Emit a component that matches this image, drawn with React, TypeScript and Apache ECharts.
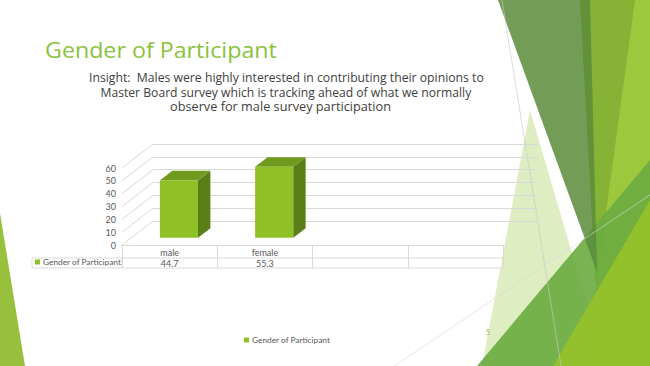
import React, { useEffect, useRef } from "react";
import * as echarts from "echarts";

// ---- data ----
const categories = ["male", "female", "", ""];
const seriesName = "Gender of Participant";
const values = [44.7, 55.3];
const yTicks = [0, 10, 20, 30, 40, 50, 60];
const titleText = "Gender of Participant";
const insightLines = [
  "Insight:  Males were highly interested in contributing their opinions to",
  "Master Board survey which is tracking ahead of what we normally",
  "observe for male survey participation",
];
const pageNumber = "5";

// ---- styles / layout ----
const W = 650;
const H = 366;
const FRONT_FILL = "#8fc026";
const SIDE_FILL = "#5a7f17";
const TOP_FILL = "#6f9a1e";
const GRID_COLOR = "#d9d9d9";
const SMALL_TEXT = "#595959";
const TITLE_COLOR = "#8bc23c";
const DEPTH: [number, number] = [31, -24];
const FRONT = { left: 122, right: 503, top: 168, bottom: 245 };
const SMALL_FONT = "Lato";
const BIG_FONT = "Open Sans";

function fitScale(text: string, font: string, target: number) {
  try {
    const c = document.createElement("canvas").getContext("2d");
    if (!c) return 1;
    c.font = font;
    const w = c.measureText(text).width;
    return w > 0 ? target / w : 1;
  } catch (e) {
    return 1;
  }
}

export default function App() {
  const ref = useRef<HTMLDivElement>(null);

  useEffect(() => {
    if (!ref.current) return;
    const chart = echarts.init(ref.current, null, { renderer: "svg" });

    const titleScale = fitScale(titleText, `22px "${BIG_FONT}"`, 232);
    const lineLefts = [89, 100.5, 170];
    const lineWidths = [395, 371, 221];
    const lineY = [77.7, 92, 106.3];

    const textGraphics: any[] = [
      {
        type: "text",
        x: 45,
        y: 49.8,
        scaleX: titleScale,
        style: {
          text: titleText,
          fontSize: 22,
          fontFamily: BIG_FONT,
          fill: TITLE_COLOR,
          textAlign: "left",
          textVerticalAlign: "middle",
        },
      },
      ...insightLines.map((t, i) => ({
        type: "text",
        x: lineLefts[i],
        y: lineY[i],
        scaleX: fitScale(t, `13px "${BIG_FONT}"`, lineWidths[i]),
        style: {
          text: t,
          fontSize: 13,
          fontFamily: BIG_FONT,
          fill: "#404040",
          textAlign: "left",
          textVerticalAlign: "middle",
        },
      })),
      {
        type: "text",
        x: 488,
        y: 332,
        style: {
          text: pageNumber,
          fontSize: 7,
          fontFamily: SMALL_FONT,
          fill: TITLE_COLOR,
          textAlign: "center",
          textVerticalAlign: "middle",
        },
      },
    ];

    // data-table frame lines
    const tableGraphics: any[] = [
      {
        type: "line",
        shape: { x1: FRONT.left, y1: 258, x2: FRONT.right, y2: 258 },
        style: { stroke: GRID_COLOR, lineWidth: 1 },
      },
      {
        type: "line",
        shape: { x1: FRONT.left, y1: 268, x2: FRONT.right, y2: 268 },
        style: { stroke: GRID_COLOR, lineWidth: 1 },
      },
      {
        type: "rect",
        shape: { x: 32, y: 258, width: FRONT.left - 32, height: 10 },
        style: { fill: "none", stroke: GRID_COLOR, lineWidth: 1 },
      },
    ];

    // decorative facets
    const deco = (points: number[][], fill: string, opacity: number) => ({
      type: "polygon",
      silent: true,
      shape: { points },
      style: { fill, opacity },
    });
    const decoGraphics: any[] = [
      deco([[0, 213], [25, 366], [0, 366]], "#97c13c", 1),
      deco([[530, 110], [605, 366], [482, 366]], "#d3e7ad", 0.75),
      deco([[580, 0], [650, 0], [650, 366], [600, 366]], "#86b236", 1),
      deco([[635, 0], [650, 0], [650, 366], [585, 366]], "#9cc83e", 1),
      deco([[477, 366], [650, 160], [650, 366]], "#6aab3f", 0.9),
      deco([[553, 366], [650, 200], [650, 366]], "#93c22b", 0.95),
      deco([[498, 0], [590, 0], [597, 272]], "#5a8c3a", 0.85),
      {
        type: "line",
        silent: true,
        shape: { x1: 502, y1: 0, x2: 561, y2: 366 },
        style: { stroke: "#c8c8c8", lineWidth: 0.8, opacity: 0.8 },
      },
      {
        type: "line",
        silent: true,
        shape: { x1: 394, y1: 366, x2: 650, y2: 195 },
        style: { stroke: "#d8d8d8", lineWidth: 0.8, opacity: 0.8 },
      },
    ];

    const legendBase = {
      data: [seriesName],
      icon: "rect",
      itemWidth: 5,
      itemHeight: 5,
      itemGap: 0,
      padding: 0,
      selectedMode: false,
      textStyle: { fontSize: 8.3, color: SMALL_TEXT, fontFamily: SMALL_FONT, padding: [0, 0, 0, -2] },
    };

    chart.setOption({
      animation: false,
      backgroundColor: "#ffffff",
      grid: [
        {
          left: FRONT.left,
          top: FRONT.top,
          width: FRONT.right - FRONT.left,
          height: FRONT.bottom - FRONT.top,
        },
        {
          left: FRONT.left + DEPTH[0],
          top: FRONT.top + DEPTH[1],
          width: FRONT.right - FRONT.left + 4,
          height: FRONT.bottom - FRONT.top,
        },
      ],
      xAxis: [
        {
          type: "category",
          gridIndex: 0,
          data: categories,
          axisLine: { show: true, lineStyle: { color: GRID_COLOR, width: 1 } },
          axisTick: {
            show: true,
            interval: 0,
            length: 23,
            alignWithLabel: false,
            lineStyle: { color: GRID_COLOR, width: 1 },
          },
          axisLabel: {
            interval: 0,
            margin: 3,
            fontSize: 9,
            color: SMALL_TEXT,
            fontFamily: SMALL_FONT,
          },
          splitLine: { show: false },
        },
        {
          type: "category",
          gridIndex: 1,
          data: categories,
          show: false,
        },
      ],
      yAxis: [
        {
          type: "value",
          gridIndex: 0,
          min: 0,
          max: 60,
          interval: 10,
          axisLine: { show: false },
          axisTick: { show: false },
          splitLine: { show: false },
          axisLabel: { fontSize: 9, color: SMALL_TEXT, fontFamily: SMALL_FONT, margin: 6 },
        },
        {
          type: "value",
          gridIndex: 1,
          min: 0,
          max: 60,
          interval: 10,
          axisLine: { show: false },
          axisTick: { show: false },
          axisLabel: { show: false },
          splitLine: { show: true, lineStyle: { color: GRID_COLOR, width: 1 } },
        },
      ],
      legend: [
        { ...legendBase, left: 244, top: 336 },
        { ...legendBase, left: 35, top: 258 },
      ],
      graphic: [...decoGraphics, ...tableGraphics, ...textGraphics],
      series: [
        {
          type: "custom",
          name: "sideWall",
          xAxisIndex: 0,
          yAxisIndex: 0,
          silent: true,
          data: yTicks.map((t) => [0, t]),
          renderItem: (params: any, api: any) => {
            const p = api.coord([0, api.value(1)]);
            const x = params.coordSys.x;
            return {
              type: "line",
              shape: { x1: x, y1: p[1], x2: x + DEPTH[0], y2: p[1] + DEPTH[1] },
              style: { stroke: GRID_COLOR, lineWidth: 1 },
            };
          },
        },
        {
          type: "custom",
          name: seriesName,
          xAxisIndex: 0,
          yAxisIndex: 0,
          itemStyle: { color: FRONT_FILL },
          data: values.map((v, i) => [i, v]),
          renderItem: (params: any, api: any) => {
            const i = api.value(0);
            const v = api.value(1);
            const b = api.coord([i, 0]);
            const t = api.coord([i, v]);
            const band = api.size([1, 0])[0];
            const w = band * 0.4;
            const f0 = 0.3;
            const f1 = 0.7;
            const ox = DEPTH[0] * f0;
            const oy = DEPTH[1] * f0;
            const dx = DEPTH[0] * (f1 - f0);
            const dy = DEPTH[1] * (f1 - f0);
            const x0 = b[0] - w / 2 + ox;
            const x1 = x0 + w;
            const yb = b[1] + oy;
            const yt = t[1] + oy;
            return {
              type: "group",
              children: [
                {
                  type: "polygon",
                  shape: { points: [[x1, yb], [x1 + dx, yb + dy], [x1 + dx, yt + dy], [x1, yt]] },
                  style: { fill: SIDE_FILL },
                },
                {
                  type: "polygon",
                  shape: { points: [[x0, yt], [x1, yt], [x1 + dx, yt + dy], [x0 + dx, yt + dy]] },
                  style: { fill: TOP_FILL },
                },
                {
                  type: "rect",
                  shape: { x: x0, y: yt, width: w, height: yb - yt },
                  style: { fill: FRONT_FILL },
                },
                {
                  type: "text",
                  x: b[0],
                  y: b[1] + 18,
                  style: {
                    text: String(v),
                    fontSize: 9,
                    fontFamily: SMALL_FONT,
                    fill: SMALL_TEXT,
                    textAlign: "center",
                    textVerticalAlign: "middle",
                  },
                },
              ],
            };
          },
        },
      ],
    });

    return () => chart.dispose();
  }, []);

  return (
    <div
      ref={ref}
      style={{ position: "fixed", left: 0, top: 0, width: W, height: H }}
    />
  );
}
